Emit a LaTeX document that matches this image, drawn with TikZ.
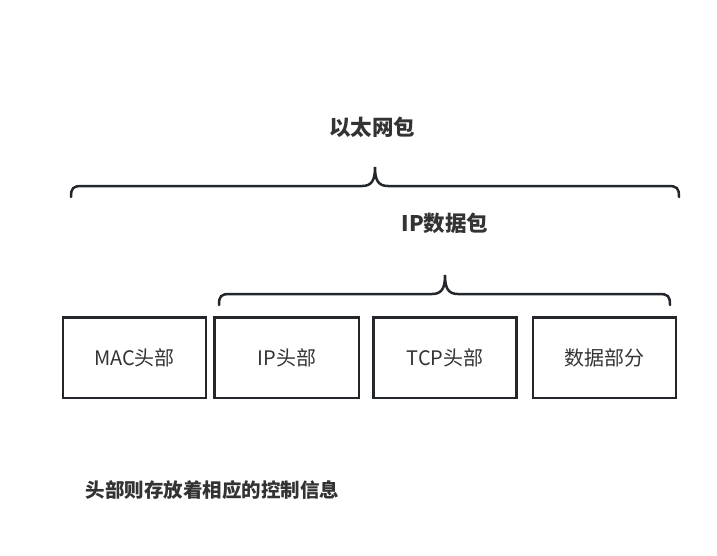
\documentclass[tikz,border=0pt]{standalone}
\usepackage{fontspec}
\setmainfont{Noto Sans CJK SC}
\usetikzlibrary{positioning}
\definecolor{linec}{HTML}{23272B}
\definecolor{textc}{HTML}{333333}

\begin{document}
\begin{tikzpicture}[
        x=1pt, y=-1pt,
        box/.style={rectangle, draw=linec, line width=2.5pt, minimum width=143pt, minimum height=80.5pt, text=textc, font=\fontsize{20}{22}\selectfont},
        title/.style={text=textc, font=\bfseries\fontsize{21.5}{24}\selectfont},
        note/.style={text=textc, font=\bfseries\fontsize{19.5}{22}\selectfont},
        brace/.style={draw=linec, line width=2.5pt, line cap=round}
    ]
    \useasboundingbox (0,0) rectangle (717,555);

    % Packet fields
    \node[box] (mac) at (134.5,357.5) {MAC头部};
    \node[box, right=6pt of mac, minimum width=144.5pt] (iphead) {IP头部};
    \node[box, right=12pt of iphead] (tcphead) {TCP头部};
    \node[box, right=14pt of tcphead] (payload) {数据部分};

    % Ethernet frame brace
    \coordinate (eth-l) at (71,197);
    \coordinate (eth-r) at (679,197);
    \coordinate (eth-tip) at (375,167);
    \draw[brace] (eth-l) .. controls (71,188) and (73,186) .. (82,186) -- (362,186)
        .. controls (372,186) and (375,180) .. (eth-tip)
        .. controls (375,180) and (378,186) .. (388,186) -- (668,186)
        .. controls (677,186) and (679,188) .. (eth-r);
    \node[title] (eth) at (372,127) {以太网包};

    % IP packet brace
    \coordinate (ip-l) at (219,305);
    \coordinate (ip-r) at (670,305);
    \coordinate (ip-tip) at (445,275);
    \draw[brace] (ip-l) .. controls (219,296) and (221,294) .. (230,294) -- (432,294)
        .. controls (442,294) and (445,288) .. (ip-tip)
        .. controls (445,288) and (448,294) .. (458,294) -- (659,294)
        .. controls (668,294) and (670,296) .. (ip-r);
    \node[title] (ippkt) at (445,223) {IP数据包};

    % Note
    \node[note, anchor=west] (info) at (82,490) {头部则存放着相应的控制信息};

\end{tikzpicture}
\end{document}
